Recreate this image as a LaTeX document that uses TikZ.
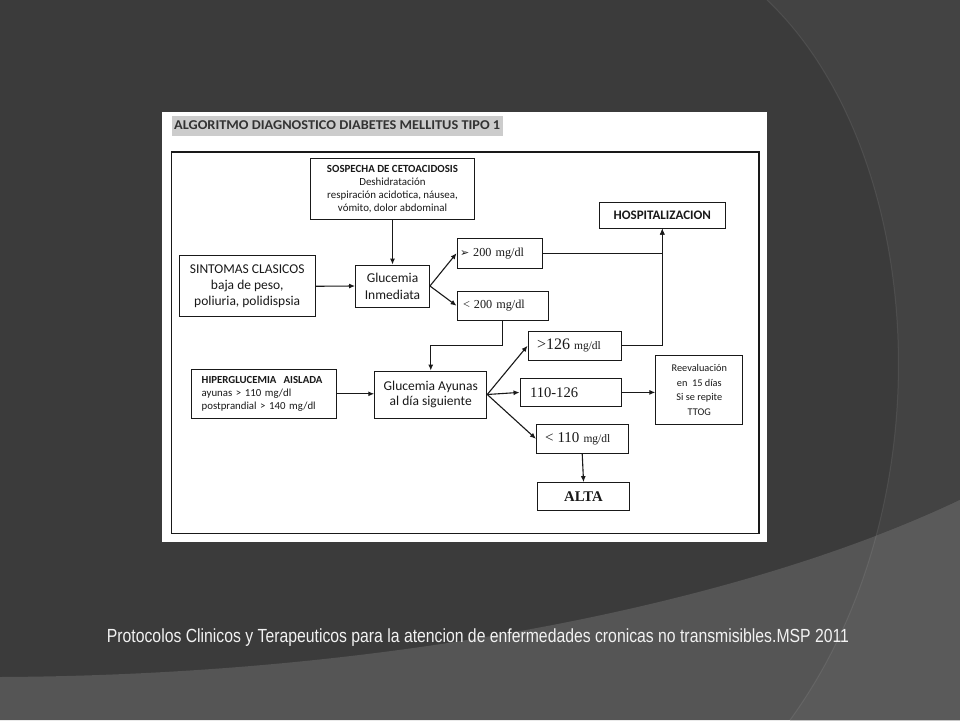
\documentclass[tikz,border=0pt]{standalone}
\usepackage{fontspec}
\setmainfont{Carlito}
\newfontfamily\serifnum{Liberation Serif}
\newfontfamily\footfont[FakeStretch=0.83]{Liberation Sans}
\newfontfamily\titlefont[FakeStretch=1.06]{Carlito}
\newfontfamily\dingfont{DejaVu Sans}
\usetikzlibrary{arrows.meta, positioning}
\usepackage{xcolor}
\definecolor{bgdark}{RGB}{59,59,59}
\definecolor{bgright}{RGB}{67,67,67}
\definecolor{bgbottom}{RGB}{85,85,85}
\definecolor{bgcorner}{RGB}{90,90,90}
\definecolor{titlegray}{RGB}{204,204,204}
\definecolor{ink}{RGB}{25,25,25}
\newcommand{\fsz}[2]{\fontsize{#1}{#2}\selectfont}

\begin{document}
\begin{tikzpicture}[
    x=1pt, y=-1pt,
    box/.style={draw=ink, line width=0.9pt, fill=white, inner sep=0pt, align=center, text=ink},
    sansbox/.style={box, font=\fsz{13.5}{15.7}},
    smallbox/.style={box, font=\fsz{10.9}{13.2}},
    numbox/.style={box, align=left, font=\serifnum\fsz{12.2}{14}},
    arr/.style={-{Latex[length=6pt,width=5pt]}, line width=1.1pt, ink},
]
\useasboundingbox (0,0) rectangle (960,720);

% background of the slide
\fill[bgdark] (0,0) rectangle (960,720);
\fill[bgright] (767,0) .. controls (925,150) and (950,500) .. (790,720) -- (960,720) -- (960,0) -- cycle;
\fill[bgbottom] (0,677) .. controls (400,675) and (750,600) .. (960,500) -- (960,720) -- (0,720) -- cycle;
\begin{scope}
    \clip (0,677) .. controls (400,675) and (750,600) .. (960,500) -- (960,720) -- (0,720) -- cycle;
    \fill[bgcorner] (767,0) .. controls (925,150) and (950,500) .. (790,720) -- (960,720) -- (960,0) -- cycle;
\end{scope}
\draw[white, opacity=0.08, line width=1pt] (767,0) .. controls (925,150) and (950,500) .. (790,720);

% white sheet
\fill[white] (162,112) rectangle (767,542);
\draw[ink, line width=1.1pt] (171.5,152) rectangle (759,533.5);

\node[anchor=west, fill=titlegray, inner xsep=2.5pt, inner ysep=0pt, minimum height=19.8pt, font=\titlefont\bfseries\fsz{13.5}{15}, text=black!80] (titulo) at (171.5,125.6) {ALGORITMO DIAGNOSTICO DIABETES MELLITUS TIPO 1};

% boxes
\node[smallbox, minimum width=163.5pt, minimum height=61pt] (sospecha) at (392.5,189) {\textbf{SOSPECHA DE CETOACIDOSIS}\\Deshidratación\\respiración acidotica, náusea,\\vómito, dolor abdominal};
\node[box, font=\bfseries\fsz{13}{15}, minimum width=126.6pt, minimum height=25.5pt] (hosp) at (662.3,215.3) {HOSPITALIZACION};
\node[numbox, text width=79.5pt, inner xsep=3pt, minimum height=29.7pt] (mayor200) at (499.75,253.2) {{\dingfont\fsz{11}{12}➢}\hspace{4pt}200 mg/dl};
\node[sansbox, minimum width=136.4pt, minimum height=61.1pt] (sintomas) at (247.2,286.25) {SINTOMAS CLASICOS\\baja de peso,\\poliuria, polidispsia};
\node[sansbox, minimum width=74pt, minimum height=42pt, font=\fsz{13.5}{16.8}] (inmediata) at (392.5,286) {Glucemia\\Inmediata};
\node[numbox, text width=79.6pt, inner xsep=6pt, minimum height=28.5pt] (menor200) at (502.8,305.75) {<~200 mg/dl};
\node[numbox, text width=75pt, inner xsep=9pt, minimum height=28.5pt] (mayor126) at (574.5,345.75) {{\fsz{16}{18}>126} {\fsz{11.5}{13}mg/dl}};
\node[box, align=left, text width=124.3pt, inner xsep=10pt, minimum height=48.4pt, font=\fsz{10.8}{13}] (hiper) at (263.85,393.8) {\textbf{HIPERGLUCEMIA~ AISLADA}\\ayunas > 110 mg/dl\\postprandial > 140 mg/dl};
\node[sansbox, minimum width=112.1pt, minimum height=47pt, font=\fsz{13.5}{15.6}] (ayunas) at (430.75,394.5) {Glucemia Ayunas\\al día siguiente};
\node[numbox, text width=81pt, inner xsep=10pt, minimum height=28.8pt, font=\serifnum\fsz{14.6}{16}] (entre) at (570.5,392.4) {110-126};
\node[box, minimum width=87pt, minimum height=69.3pt, font=\fsz{10.3}{14.9}] (reeval) at (699.3,390) {Reevaluación\\en~ 15 días\\Si se repite\\TTOG};
\node[numbox, text width=74.4pt, inner xsep=8.6pt, minimum height=28.3pt] (menor110) at (582.2,438.85) {{\fsz{15}{17}<~110} {\fsz{11.5}{13}mg/dl}};
\node[box, minimum width=91.9pt, minimum height=27.4pt, font=\serifnum\bfseries\fsz{14.8}{16}] (alta) at (583.55,496.3) {ALTA};

% connectors
\draw[arr] (sospecha.south) -- (inmediata.north);
\draw[arr] (sintomas.east) -- (inmediata.west);
\draw[arr] (inmediata.east) -- (mayor200.west);
\draw[arr] (inmediata.east) -- (menor200.west);
\draw[arr] (mayor200.east) -| (hosp.south);
\draw[arr] (mayor126.east) -| (hosp.south);
\draw[arr] (menor200.south) -- ++(0,24.8) -| (ayunas.north);
\draw[arr] (hiper.east) -- (hiper.east -| ayunas.west);
\draw[arr] (ayunas.east) -- (mayor126.west);
\draw[arr] (ayunas.east) -- (entre.west);
\draw[arr] (ayunas.east) -- (menor110.west);
\draw[arr] (entre.east) -- (entre.east -| reeval.west);
\draw[arr] (menor110.south) -- (alta.north);

\node[font=\footfont\fsz{19}{21}, text=white!95!black] (fuente) at (478,638) {Protocolos Clinicos y Terapeuticos para la atencion de enfermedades cronicas no transmisibles.MSP 2011};
\end{tikzpicture}
\end{document}
